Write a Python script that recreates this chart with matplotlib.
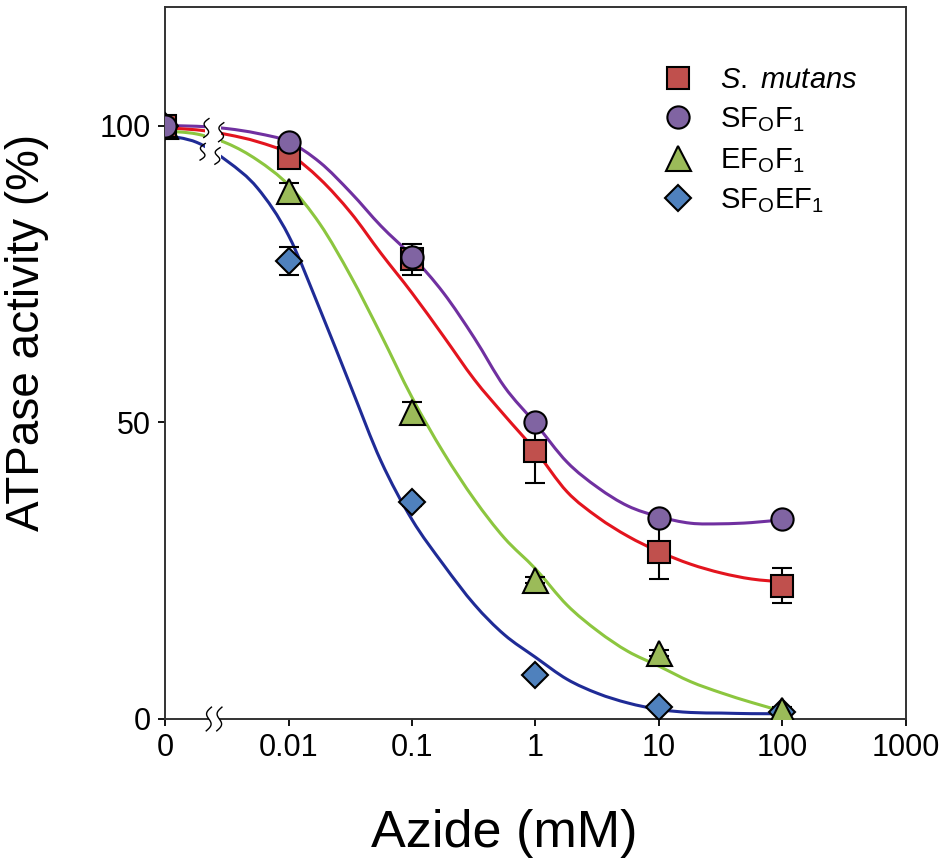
"""
Azide inhibition of ATPase activity
"""
import numpy as np
import matplotlib
matplotlib.use('Agg')
import matplotlib.pyplot as plt
from matplotlib.lines import Line2D
from matplotlib.patches import Rectangle, PathPatch
from matplotlib.path import Path

plt.rcParams['font.family'] = ['Liberation Sans', 'DejaVu Sans']
plt.rcParams['mathtext.fontset'] = 'custom'
plt.rcParams['mathtext.rm'] = 'Liberation Sans'
plt.rcParams['mathtext.it'] = 'Liberation Sans:italic'

# measured points (mM); 0 is drawn one decade below 0.01
conc = [0, 0.01, 0.1, 1, 10, 100]
mutans = [100, 94.5, 77.5, 45.2, 28.2, 22.5]
mutans_err = [0, 1.0, 2.6, 5.5, 4.6, 2.9]
sfof1 = [100, 97.2, 77.8, 50.0, 33.8, 33.7]
sfof1_err = [0, 0.5, 0.5, 0.8, 0.5, 0.5]
efof1 = [100, 89.0, 51.7, 23.5, 11.2, 1.6]
efof1_err = [0, 1.3, 1.7, 0.5, 0.5, 0.5]
sfoef1 = [100, 77.2, 36.5, 7.5, 2.0, 1.2]
sfoef1_err = [0, 2.4, 0.6, 0.3, 0.3, 0.3]

# fitted curves
curve_x = [0.001, 0.0018, 0.0032, 0.0056, 0.01, 0.018, 0.032, 0.056, 0.1, 0.18, 0.32,
           0.56, 1, 1.8, 3.2, 5.6, 10, 18, 32, 56, 100]
fit_mutans = [99.6, 99.3, 98.5, 97.3, 95.3, 91.0, 85.3, 78.5, 71.8, 64.5, 57.2,
              51.2, 45.2, 38.3, 34.0, 30.8, 28.2, 26.1, 24.6, 23.6, 23.1]
fit_sfof1 = [100, 99.9, 99.5, 98.7, 97.3, 93.8, 88.7, 83.1, 78.0, 71.8, 64.2,
             56.0, 49.8, 43.3, 39.0, 35.9, 34.1, 33.0, 32.9, 33.1, 33.6]
fit_efof1 = [99.1, 98.6, 97.0, 94.2, 90.0, 83.4, 74.6, 64.8, 54.2, 44.9, 37.0,
             30.5, 25.3, 19.2, 14.8, 11.4, 8.9, 6.3, 4.4, 2.8, 1.3]
fit_sfoef1 = [98.4, 97.2, 94.0, 89.5, 81.5, 69.0, 56.0, 43.5, 33.6, 26.0, 19.3,
              14.2, 10.4, 6.7, 4.3, 2.7, 1.6, 1.1, 1.0, 0.9, 0.9]

xticks = [0.001, 0.01, 0.1, 1, 10, 100, 1000]
xtick_labels = ['0', '0.01', '0.1', '1', '10', '100', '1000']
yticks = [0, 50, 100]

x_pos = [0.001 if c == 0 else c for c in conc]


def smooth_curve(ax, xs, ys, color):
    # draw the read points as a smooth bezier path (control points in log-x space)
    lx = np.log10(xs)
    y = np.asarray(ys, dtype=float)
    n = len(lx)
    verts = [(xs[0], y[0])]
    codes = [Path.MOVETO]
    for i in range(n - 1):
        i0, i3 = max(i - 1, 0), min(i + 2, n - 1)
        c1 = (lx[i] + (lx[i + 1] - lx[i0]) / 6, y[i] + (y[i + 1] - y[i0]) / 6)
        c2 = (lx[i + 1] - (lx[i3] - lx[i]) / 6, y[i + 1] - (y[i3] - y[i]) / 6)
        verts += [(10 ** c1[0], c1[1]), (10 ** c2[0], c2[1]), (xs[i + 1], y[i + 1])]
        codes += [Path.CURVE4] * 3
    ax.add_patch(PathPatch(Path(verts, codes), facecolor='none', edgecolor=color,
                           lw=2.2, zorder=2, capstyle='round'))


fig = plt.figure(figsize=(9.45, 8.66), dpi=100)
ax = fig.add_axes([165 / 945, 147 / 866, 741 / 945, 712 / 866])
ax.set_xscale('log')
ax.set_xlim(0.001, 1000)
ax.set_ylim(0, 120)

# curves
smooth_curve(ax, curve_x, fit_sfof1, '#7030A0')
smooth_curve(ax, curve_x, fit_mutans, '#E3141E')
smooth_curve(ax, curve_x, fit_efof1, '#8CC63F')
smooth_curve(ax, curve_x, fit_sfoef1, '#1F2B96')

# error bars
eb = dict(fmt='none', ecolor='black', elinewidth=1.5, capsize=7, capthick=1.5, zorder=3)
ax.errorbar(x_pos, sfoef1, yerr=sfoef1_err, **eb)
ax.errorbar(x_pos, efof1, yerr=efof1_err, **eb)
ax.errorbar(x_pos, mutans, yerr=mutans_err, **eb)
ax.errorbar(x_pos, sfof1, yerr=sfof1_err, **eb)

mk = dict(ls='none', mec='black', mew=1.5)
ax.plot(x_pos, sfoef1, marker='D', ms=13, mfc='#4F81BD', zorder=4, **mk)
ax.plot(x_pos, efof1, marker='^', ms=18, mfc='#9BBB59', zorder=5, **mk)
ax.plot(x_pos, mutans, marker='s', ms=15.5, mfc='#C0504D', zorder=6, **mk)
ax.plot(x_pos, sfof1, marker='o', ms=16, mfc='#8064A2', zorder=7, **mk)


# axis break between 0 and 0.01
def squiggle(xc, yc, half_dec, half_h, **kw):
    t = np.linspace(-1, 1, 40)
    lx = np.log10(xc) + half_dec * np.sin(np.pi * t) * 0.8 - half_dec * 0.6 * t
    ax.plot(10 ** lx, yc - half_h * t, color='black', lw=1.0, **kw)


ax.add_patch(Rectangle((10 ** -2.676, 91.9), 10 ** -2.547 - 10 ** -2.676, 11.2,
                       facecolor='white', edgecolor='none', zorder=2.5))
squiggle(10 ** -2.665, 99.6, 0.035, 1.6, zorder=2.6)
squiggle(10 ** -2.545, 98.9, 0.035, 1.6, zorder=2.6)
squiggle(10 ** -2.695, 95.6, 0.035, 1.4, zorder=2.6)
squiggle(10 ** -2.575, 94.9, 0.035, 1.4, zorder=2.6)

ax.add_patch(Rectangle((10 ** -2.64, -1), 10 ** -2.56 - 10 ** -2.64, 2,
                       facecolor='white', edgecolor='none', zorder=3, clip_on=False))
squiggle(10 ** -2.645, 0, 0.035, 2.0, zorder=3.1, clip_on=False)
squiggle(10 ** -2.56, 0, 0.035, 2.0, zorder=3.1, clip_on=False)

ax.set_xticks(xticks)
ax.set_xticklabels(xtick_labels)
ax.minorticks_off()
ax.set_yticks(yticks)
ax.tick_params(axis='both', direction='out', length=5, width=1.3, labelsize=22,
               colors='black', pad=5)
for sp in ax.spines.values():
    sp.set_color('#333333')
    sp.set_linewidth(1.4)

ax.set_xlabel('Azide (mM)', fontsize=37.5)
ax.set_ylabel('ATPase activity (%)', fontsize=33)
ax.xaxis.set_label_coords(0.4575, -0.127)
ax.yaxis.set_label_coords(-0.157, 0.5435)

handles = [
    Line2D([], [], marker='s', ms=15.5, mfc='#C0504D', **mk),
    Line2D([], [], marker='o', ms=16, mfc='#8064A2', **mk),
    Line2D([], [], marker='^', ms=18, mfc='#9BBB59', **mk),
    Line2D([], [], marker='D', ms=13, mfc='#4F81BD', **mk),
]
labels = [r'$\mathit{S.\ mutans}$',
          r'SF$_\mathregular{O}$F$_\mathregular{1}$',
          r'EF$_\mathregular{O}$F$_\mathregular{1}$',
          r'SF$_\mathregular{O}$EF$_\mathregular{1}$']
ax.legend(handles, labels, loc='upper left', bbox_to_anchor=(0.637, 0.954), frameon=False,
          fontsize=21, handlelength=1.0, handletextpad=0.95, labelspacing=0.4)

fig.savefig('out.png', dpi=100)
